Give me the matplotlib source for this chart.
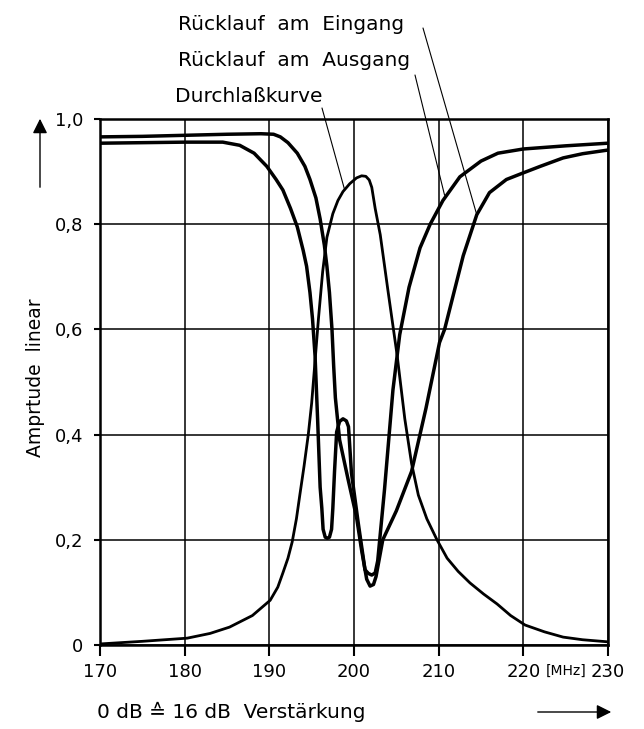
import matplotlib.pyplot as plt

# Frequenz [MHz] / Amplitude linear
f_durch = [170, 175, 180.3, 183, 185.3, 188, 190.1, 191, 191.6, 192.2, 192.7, 193.2, 193.6,
           194.1, 194.6, 195.0, 195.4, 195.8, 196.3, 196.8, 197.5, 198.1, 198.7, 199.5, 200.3, 200.9,
           201.4, 201.8, 202.1, 202.5, 203.1, 204.0, 205.1, 206.0, 206.8, 207.6, 208.6, 209.8,
           211.0, 212.3, 213.7, 215.3, 216.9, 218.5, 220.2, 222.5, 224.7, 227, 230]
a_durch = [0.002, 0.007, 0.013, 0.022, 0.034, 0.056, 0.085, 0.11, 0.137, 0.165, 0.196, 0.24, 0.285,
           0.34, 0.40, 0.46, 0.54, 0.62, 0.71, 0.775, 0.82, 0.845, 0.862, 0.877, 0.888, 0.892,
           0.891, 0.884, 0.87, 0.83, 0.78, 0.675, 0.55, 0.43, 0.345, 0.285, 0.24, 0.2,
           0.165, 0.14, 0.118, 0.097, 0.078, 0.056, 0.038, 0.025, 0.015, 0.01, 0.006]

f_eingang = [170, 175, 180, 185, 189, 190.5, 191.3, 192.2, 193.3, 194.2, 194.8, 195.5, 196.0,
             196.5, 196.8, 197.1, 197.4, 197.6, 197.8, 198.3, 199.3, 200.3, 200.9, 201.5, 201.9,
             202.3, 202.6, 203.4, 205.0, 206.8, 208.5, 210.1, 210.7, 212.9, 214.5, 216.0, 218.0,
             219.9, 222.0, 224.7, 227.0, 230.0]
a_eingang = [0.966, 0.967, 0.969, 0.971, 0.972, 0.971, 0.966, 0.955, 0.935, 0.91, 0.885, 0.85, 0.81,
             0.76, 0.72, 0.67, 0.60, 0.53, 0.47, 0.39, 0.315, 0.243, 0.18, 0.125, 0.112,
             0.115, 0.13, 0.2, 0.255, 0.33, 0.45, 0.575, 0.6, 0.74, 0.818, 0.86, 0.885,
             0.897, 0.91, 0.926, 0.934, 0.941]

f_ausgang = [170, 175, 180, 184.5, 186.5, 188.2, 189.7, 190.8, 191.6, 192.5, 193.3, 194.0, 194.4,
             194.8, 195.1, 195.4, 195.7, 196.0, 196.2, 196.35, 196.6, 196.85, 197.1, 197.35, 197.5, 197.7,
             197.95, 198.3, 198.7, 199.1, 199.35, 199.7, 200.5, 201.3, 201.7, 202.1, 202.5, 202.8,
             203.6, 204.6, 205.4, 206.5, 207.8, 209.0, 210.5, 212.5, 215.0, 217.0, 220.0, 225.0, 230.0]
a_ausgang = [0.954, 0.955, 0.956, 0.956, 0.95, 0.935, 0.91, 0.885, 0.865, 0.83, 0.795, 0.75, 0.72,
             0.67, 0.62, 0.55, 0.43, 0.30, 0.26, 0.22, 0.205, 0.203, 0.205, 0.22, 0.26, 0.33,
             0.405, 0.425, 0.43, 0.426, 0.415, 0.327, 0.232, 0.143, 0.136, 0.133, 0.137, 0.16,
             0.295, 0.485, 0.59, 0.68, 0.755, 0.80, 0.845, 0.89, 0.92, 0.935, 0.943, 0.949, 0.954]

x_ticks = [170, 180, 190, 200, 210, 220, 230]
y_ticks = [0, 0.2, 0.4, 0.6, 0.8, 1.0]
y_ticklabels = ['0', '0,2', '0,4', '0,6', '0,8', '1,0']

plt.rcParams['font.family'] = ['DejaVu Sans']

fig = plt.figure(figsize=(6.44, 7.29), dpi=100)
ax = fig.add_axes([100 / 644, 84 / 729, 508 / 644, 526 / 729])

ax.plot(f_durch, a_durch, color='black', lw=2.0, solid_joinstyle='round', solid_capstyle='round', zorder=3)
for f, a in [(f_eingang, a_eingang), (f_ausgang, a_ausgang)]:
    ax.plot(f, a, color='black', lw=2.5, solid_joinstyle='round', solid_capstyle='round', zorder=3)

ax.set_xlim(170, 230)
ax.set_ylim(0, 1.0)
ax.set_xticks(x_ticks)
ax.set_xticklabels([str(t) for t in x_ticks], fontsize=13)
ax.set_yticks(y_ticks)
ax.set_yticklabels(y_ticklabels, fontsize=13)
ax.tick_params(axis='x', direction='out', length=8, width=1.5, pad=5)
ax.tick_params(axis='y', direction='out', length=4, width=1.5, pad=8)
ax.grid(True, color='black', lw=1.1)
ax.set_axisbelow(True)
for s in ax.spines.values():
    s.set_linewidth(1.8)

# Einheit zwischen 220 und 230
ax.text(225, -0.05, '[MHz]', fontsize=10, ha='center', va='center', transform=ax.transData)

# Achsenbeschriftungen
fig.text(36 / 644, 1 - 378 / 729, 'Amprtude  linear', rotation=90, fontsize=13.5,
         ha='center', va='center')
fig.text(97 / 644, 1 - 712 / 729, '0 dB \u2259 16 dB  Verstärkung', fontsize=14.5,
         ha='left', va='center')
ax.annotate('', xy=(40, 729 - 116), xycoords='figure pixels',
            xytext=(40, 729 - 190), textcoords='figure pixels',
            arrowprops=dict(arrowstyle='-|>', color='black', lw=1.0, mutation_scale=22))
ax.annotate('', xy=(614, 729 - 712), xycoords='figure pixels',
            xytext=(535, 729 - 712), textcoords='figure pixels',
            arrowprops=dict(arrowstyle='-|>', color='black', lw=1.0, mutation_scale=22))

# Kurvenbezeichnungen mit Hinweislinien
fig.text(178 / 644, 1 - 25 / 729, 'Rücklauf  am  Eingang', fontsize=14.5, ha='left', va='center')
fig.text(178 / 644, 1 - 60 / 729, 'Rücklauf  am  Ausgang', fontsize=14.5, ha='left', va='center')
fig.text(175 / 644, 1 - 97 / 729, 'Durchlaßkurve', fontsize=14.5, ha='left', va='center')

leaders = [((214.5, 0.818), (423, 729 - 28)),
           ((210.7, 0.855), (415, 729 - 75)),
           ((198.9, 0.865), (322, 729 - 108))]
for xy, xytext in leaders:
    ax.annotate('', xy=xy, xycoords='data', xytext=xytext, textcoords='figure pixels',
                arrowprops=dict(arrowstyle='-', color='black', lw=0.8, shrinkA=0, shrinkB=0),
                annotation_clip=False)

fig.savefig('out.png', dpi=100)
